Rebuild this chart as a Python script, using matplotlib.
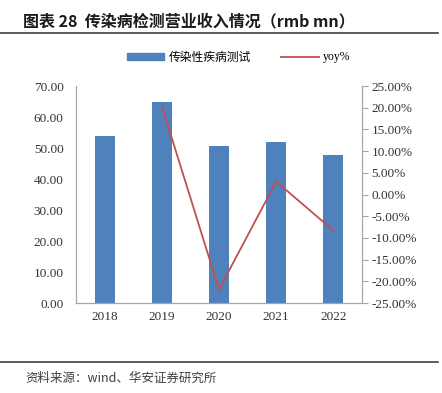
import numpy as np
import matplotlib.pyplot as plt
from matplotlib.ticker import FuncFormatter
from matplotlib.lines import Line2D
from matplotlib.patches import Patch

# =========================
# DATOS
# =========================

years = ["2018", "2019", "2020", "2021", "2022"]
revenue = [53.9, 64.8, 50.6, 51.9, 47.7]
yoy = [None, 20.4, -21.9, 3.0, -8.3]

bar_color = "#4F81BD"
line_color = "#C0504D"
grey = "#A6A6A6"
cjk = ["Noto Sans CJK SC", "DejaVu Sans"]
num_font = "Liberation Serif"

# =========================
# FIGURA
# =========================

fig = plt.figure(figsize=(4.42, 3.93), dpi=100)
ax = fig.add_axes([0.172, 0.229, 0.647, 0.552])
ax2 = ax.twinx()

x = np.arange(len(years))
ax.bar(x, revenue, width=0.35, color=bar_color, zorder=2)

yx = [i for i, v in enumerate(yoy) if v is not None]
yv = [v for v in yoy if v is not None]
ax2.plot(yx, yv, color=line_color, lw=1.3, zorder=3)

ax.set_xlim(-0.5, len(years) - 0.5)
ax.set_ylim(0, 70)
ax.set_yticks(np.arange(0, 71, 10))
ax.yaxis.set_major_formatter(FuncFormatter(lambda v, p: f"{v:.2f}"))
ax.set_xticks(x)
ax.set_xticklabels(years)

ax2.set_ylim(-25, 25)
ax2.set_yticks(np.arange(-25, 26, 5))
ax2.yaxis.set_major_formatter(FuncFormatter(lambda v, p: f"{v:.2f}%"))

for a in (ax, ax2):
    for s in a.spines.values():
        s.set_color(grey)
        s.set_linewidth(0.8)
    a.spines["top"].set_visible(False)
    for lab in a.get_yticklabels() + a.get_xticklabels():
        lab.set_fontfamily(num_font)
        lab.set_fontsize(9.5)
        lab.set_color("#333333")

ax.tick_params(axis="y", length=0, pad=9)
ax.tick_params(axis="x", length=0, pad=6)
ax2.tick_params(axis="y", length=4, color=grey, pad=3)

# leyenda
handles = [Patch(color=bar_color), Line2D([0], [0], color=line_color, lw=1.3)]
leg = fig.legend(handles, ["传染性疾病测试", "yoy%"], loc="center",
                 bbox_to_anchor=(0.54, 0.855), ncol=2, frameon=False,
                 handlelength=3.2, handleheight=0.6, columnspacing=2.5,
                 handletextpad=0.4, prop={"family": cjk, "size": 8.5})
leg.get_texts()[1].set_fontfamily(num_font)

# título y pie
fig.text(0.052, 0.945, "图表 28  传染病检测营业收入情况（rmb mn）", fontsize=11.5,
         fontweight="bold", family=cjk, va="center", color="#1a1a1a")
fig.add_artist(Line2D([0.0, 0.99], [0.915, 0.915], color="#404040", lw=1.2))
fig.add_artist(Line2D([0.0, 0.99], [0.079, 0.079], color="#404040", lw=1.2))
fig.text(0.057, 0.038, "资料来源：wind、华安证券研究所", fontsize=9,
         family=cjk, va="center", color="#404040")

plt.savefig("out.png", dpi=100)
